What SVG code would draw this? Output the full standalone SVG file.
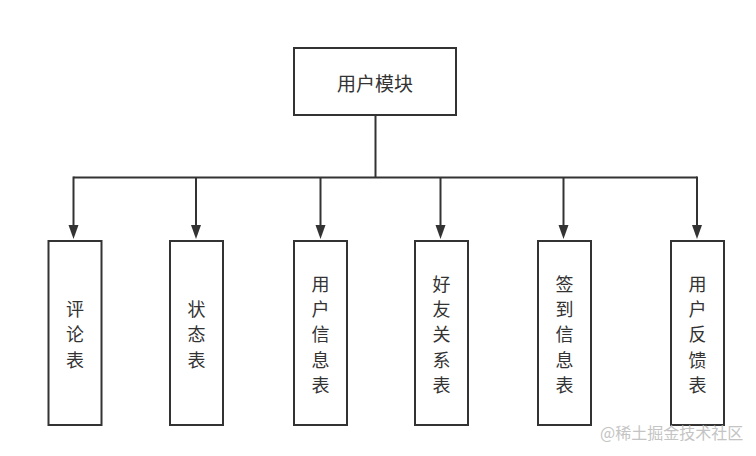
<svg xmlns="http://www.w3.org/2000/svg" width="756" height="456" viewBox="0 0 756 456">
  <defs>
    <marker id="arrow" viewBox="0 0 10 14" refX="5" refY="14" markerWidth="10" markerHeight="14" markerUnits="userSpaceOnUse" orient="auto-start-reverse">
      <path d="M0,0 L10,0 L5,14 Z" fill="#333"/>
    </marker>
    <style>
      .box { fill: #fff; stroke: #333; stroke-width: 2; }
      .lbl { font-family: "Noto Sans CJK SC", "Liberation Sans", sans-serif; fill: #333; text-anchor: middle; dominant-baseline: central; }
      .top { font-size: 19px; }
      .v { font-size: 18px; }
      .conn { fill: none; stroke: #333; stroke-width: 2; }
      .wm { font-family: "Noto Sans CJK SC", "Liberation Sans", sans-serif; font-size: 16px; fill: #c4c4c4; }
    </style>
  </defs>
  <rect width="756" height="456" fill="#fff"/>

  <g id="connectors">
    <line class="conn" x1="375.5" y1="115" x2="375.5" y2="177.5"/>
    <line class="conn" x1="73.5" y1="177.5" x2="697" y2="177.5"/>
    <line class="conn" x1="73.5" y1="176.5" x2="73.5" y2="225" />
    <line class="conn" x1="196" y1="177.5" x2="196" y2="225" />
    <line class="conn" x1="320.5" y1="177.5" x2="320.5" y2="225" />
    <line class="conn" x1="440.5" y1="177.5" x2="440.5" y2="225" />
    <line class="conn" x1="563.5" y1="177.5" x2="563.5" y2="225" />
    <line class="conn" x1="697" y1="176.5" x2="697" y2="225" />
    <path d="M68.5,225 L78.5,225 L73.5,239 Z" fill="#333"/>
    <path d="M191,225 L201,225 L196,239 Z" fill="#333"/>
    <path d="M315.5,225 L325.5,225 L320.5,239 Z" fill="#333"/>
    <path d="M435.5,225 L445.5,225 L440.5,239 Z" fill="#333"/>
    <path d="M558.5,225 L568.5,225 L563.5,239 Z" fill="#333"/>
    <path d="M692,225 L702,225 L697,239 Z" fill="#333"/>
  </g>

  <g id="node-root">
    <rect class="box" x="294" y="48" width="162" height="67"/>
    <text class="lbl top" x="375" y="82">用户模块</text>
  </g>

  <g id="node-pinglun">
    <rect class="box" x="48.5" y="241" width="53" height="184"/>
    <text class="lbl v" x="75"><tspan x="75" y="307.5">评</tspan><tspan x="75" y="333">论</tspan><tspan x="75" y="358.5">表</tspan></text>
  </g>

  <g id="node-zhuangtai">
    <rect class="box" x="170" y="241" width="53" height="184"/>
    <text class="lbl v" x="196.5"><tspan x="196.5" y="307.5">状</tspan><tspan x="196.5" y="333">态</tspan><tspan x="196.5" y="358.5">表</tspan></text>
  </g>

  <g id="node-yonghuxinxi">
    <rect class="box" x="294" y="241" width="53" height="184"/>
    <text class="lbl v" x="320.5"><tspan x="320.5" y="282.5">用</tspan><tspan x="320.5" y="308">户</tspan><tspan x="320.5" y="333">信</tspan><tspan x="320.5" y="358.5">息</tspan><tspan x="320.5" y="383.5">表</tspan></text>
  </g>

  <g id="node-haoyou">
    <rect class="box" x="415" y="241" width="53" height="184"/>
    <text class="lbl v" x="441.5"><tspan x="441.5" y="282.5">好</tspan><tspan x="441.5" y="308">友</tspan><tspan x="441.5" y="333">关</tspan><tspan x="441.5" y="358.5">系</tspan><tspan x="441.5" y="383.5">表</tspan></text>
  </g>

  <g id="node-qiandao">
    <rect class="box" x="538" y="241" width="53" height="184"/>
    <text class="lbl v" x="564.5"><tspan x="564.5" y="282.5">签</tspan><tspan x="564.5" y="308">到</tspan><tspan x="564.5" y="333">信</tspan><tspan x="564.5" y="358.5">息</tspan><tspan x="564.5" y="383.5">表</tspan></text>
  </g>

  <g id="node-fankui">
    <rect class="box" x="671" y="241" width="53" height="184"/>
    <text class="lbl v" x="697.5"><tspan x="697.5" y="282.5">用</tspan><tspan x="697.5" y="308">户</tspan><tspan x="697.5" y="333">反</tspan><tspan x="697.5" y="358.5">馈</tspan><tspan x="697.5" y="383.5">表</tspan></text>
  </g>

  <text class="wm" x="600" y="439">@稀土掘金技术社区</text>
</svg>
